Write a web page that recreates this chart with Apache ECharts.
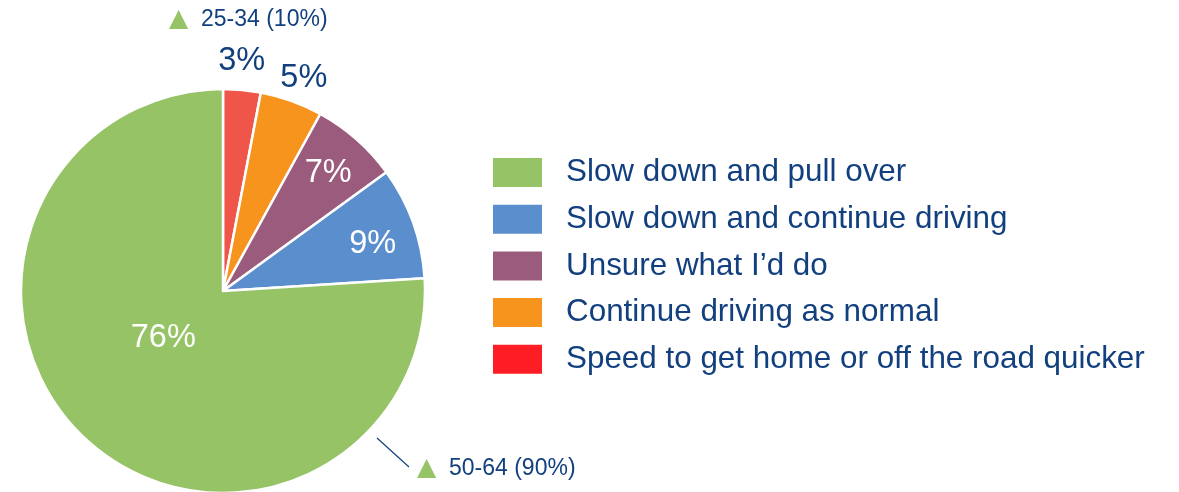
<!DOCTYPE html>
<html>
<head>
<meta charset="utf-8">
<script src="https://cdn.jsdelivr.net/npm/echarts@6/dist/echarts.min.js"></script>
<style>
  html, body { margin: 0; padding: 0; background: #fff; }
  #container { width: 1179px; height: 492px; }
</style>
</head>
<body>
<div id="container"></div>
<script>
// slices in clockwise order from 12 o'clock
const categories = ['Speed to get home or off the road quicker', 'Continue driving as normal', 'Unsure what I\u2019d do', 'Slow down and continue driving', 'Slow down and pull over']
const values = [3, 5, 7, 9, 76]
const legendOrder = ['Slow down and pull over', 'Slow down and continue driving', 'Unsure what I\u2019d do', 'Continue driving as normal', 'Speed to get home or off the road quicker']
const noteTop = '25-34 (10%)'
const noteBottom = '50-64 (90%)'

const sliceColors = ['#f0554a', '#f7941e', '#9b5b7c', '#5b8ecc', '#95c366']
const legendColors = { 'Speed to get home or off the road quicker': '#ff1d25' }
const labelColors = ['#12407f', '#12407f', '#fff', '#fff', '#fff']
// how far to push each label out from the default mid-radius spot
const labelScale = [2.22, 2.18, 1.53, 1.51, 0.74]
const labelShift = [[-3, 0], [4, 0], [0, 1], [2, 6], [-7, -9]]
const navy = '#12407f'
const green = '#95c366'
const cx = 223, cy = 291

let seriesData = []
values.forEach((v, i) => {
    seriesData.push({
        name: categories[i],
        value: v,
        itemStyle: { color: sliceColors[i] },
        label: { color: labelColors[i] }
    })
})

function note(x, y, txt) {
    return [
        {
            type: 'text', left: x - 1, top: y - 1,
            style: { text: '\u25B2', fontFamily: 'DejaVu Sans', fontSize: 25, fill: green }
        },
        {
            type: 'text', left: x + 31, top: y,
            style: { text: txt, fontFamily: 'Liberation Sans', fontSize: 23, fill: navy }
        }
    ]
}

let options = {
    animation: false,
    legend: {
        orient: 'vertical',
        left: 486,
        top: 151,
        icon: 'rect',
        itemWidth: 51,
        itemHeight: 31,
        itemGap: 13.7,
        textStyle: {
            fontFamily: 'Liberation Sans',
            fontSize: 31.4,
            color: navy,
            padding: [0, 0, 0, 18]
        },
        data: legendOrder.map(n => legendColors[n] ? { name: n, itemStyle: { color: legendColors[n] } } : n)
    },
    series: [
        {
            type: 'pie',
            center: [cx, cy],
            radius: [0, 202],
            startAngle: 90,
            clockwise: true,
            data: seriesData,
            itemStyle: {
                borderColor: '#fff',
                borderWidth: 2.5
            },
            label: {
                show: true,
                position: 'inside',
                fontFamily: 'Liberation Sans',
                fontSize: 32.5,
                formatter: '{c}%'
            },
            labelLine: { show: false },
            labelLayout: (params) => {
                const i = params.dataIndex
                const k = labelScale[i]
                const r = params.labelRect
                const lx = r.x + r.width / 2
                const ly = r.y + r.height / 2
                return { dx: (lx - cx) * (k - 1) + labelShift[i][0], dy: (ly - cy) * (k - 1) + labelShift[i][1] }
            }
        }
    ],
    graphic: [
        ...note(170, 8, noteTop),
        {
            type: 'line',
            shape: { x1: 377, y1: 438, x2: 409, y2: 467 },
            style: { stroke: navy, lineWidth: 1.2 }
        },
        ...note(418, 457, noteBottom)
    ]
}

let mychart = echarts.init(document.getElementById('container'))
mychart.setOption(options)
window.addEventListener('resize', () => { mychart.resize() })
</script>
</body>
</html>
